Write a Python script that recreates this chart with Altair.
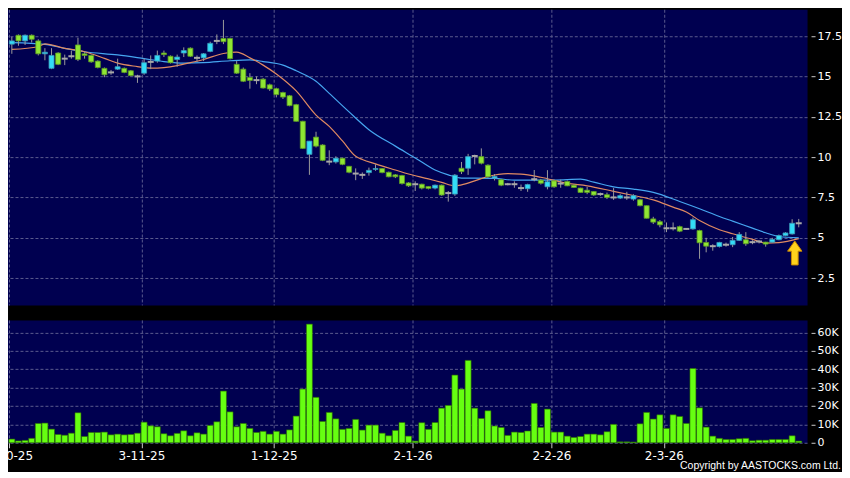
import altair as alt
import pandas as pd

# ---------------- data ----------------
month_idx = [0, 20, 40, 61, 82, 99]
month_labels = ["2-10-25", "3-11-25", "1-12-25", "2-1-26", "2-2-26", "2-3-26"]

open_ = [17.0, 17.55, 17.2, 17.55, 17.2, 16.4, 15.5, 16.45, 16.1, 16.25,
         16.95, 16.4, 16.3, 15.95, 15.5, 15.25, 15.45, 15.5, 15.35, 15.0,
         15.2, 15.9, 15.95, 16.45, 16.25, 16.05, 16.45, 16.75, 16.15, 16.15,
         16.55, 17.2, 17.35, 17.35, 15.75, 15.45, 14.93, 14.77, 14.83, 14.48,
         14.24, 14.0, 13.8, 13.25, 12.22, 10.17, 11.24, 10.75, 9.72, 9.7,
         9.93, 9.43, 8.98, 8.9, 9.04, 9.24, 9.29, 9.06, 8.9, 8.86,
         8.4, 8.32, 8.32, 8.18, 8.08, 8.26, 7.77, 7.71, 9.31, 9.31,
         10.07, 10.03, 9.5, 8.7, 8.6, 8.32, 8.32, 8.08, 8.04, 8.63,
         8.57, 8.16, 8.53, 8.36, 8.49, 8.26, 8.08, 7.95, 7.87, 7.71,
         7.67, 7.5, 7.46, 7.5, 7.4, 7.36, 6.99, 6.17, 6.0, 5.59,
         5.59, 5.69, 5.55, 5.55, 5.45, 4.71, 4.48, 4.46, 4.57, 4.57,
         4.84, 4.88, 4.73, 4.77, 4.73, 4.73, 4.88, 5.14, 5.24, 5.9]

high = [17.45, 17.6, 17.6, 17.6, 17.3, 16.75, 16.75, 16.5, 16.35, 16.6,
        17.4, 16.5, 16.35, 16.0, 15.55, 15.4, 16.1, 15.55, 15.4, 15.1,
        16.1, 16.3, 16.6, 16.6, 16.3, 16.35, 16.8, 16.8, 16.3, 16.45,
        17.15, 17.6, 18.5, 17.4, 15.95, 15.55, 15.2, 15.0, 14.9, 14.55,
        14.3, 14.05, 13.85, 13.3, 12.25, 11.0, 11.57, 10.8, 10.42, 10.05,
        9.95, 9.45, 9.3, 9.05, 9.35, 9.55, 9.32, 9.1, 8.95, 8.9,
        8.45, 8.5, 8.35, 8.2, 8.3, 8.3, 7.9, 8.95, 9.7, 10.2,
        10.15, 10.54, 9.55, 8.95, 8.65, 8.4, 8.5, 8.3, 8.35, 9.2,
        8.65, 9.19, 8.6, 8.6, 8.55, 8.3, 8.1, 8.15, 7.9, 7.8,
        7.8, 8.08, 7.7, 7.85, 7.7, 7.4, 7.0, 6.3, 6.1, 5.95,
        5.95, 5.75, 5.6, 6.25, 5.5, 5.0, 4.6, 4.75, 4.7, 5.05,
        5.35, 5.35, 4.85, 4.85, 4.75, 5.0, 5.2, 5.35, 6.15, 6.17]

low = [16.4, 16.9, 16.95, 17.1, 16.3, 16.0, 15.45, 15.7, 15.7, 16.1,
       15.95, 16.1, 15.85, 15.5, 14.95, 15.1, 15.4, 15.2, 15.0, 14.6,
       15.1, 15.45, 15.85, 16.2, 15.8, 15.6, 16.2, 16.2, 15.9, 15.95,
       16.5, 17.0, 17.0, 16.05, 15.15, 14.65, 14.24, 14.52, 14.25, 14.1,
       13.7, 13.6, 13.15, 12.2, 10.5, 8.9, 10.6, 9.75, 9.5, 9.6,
       9.5, 9.0, 8.57, 8.65, 8.85, 9.15, 9.0, 8.75, 8.7, 8.3,
       8.15, 7.9, 8.0, 8.0, 8.0, 7.6, 7.24, 7.6, 8.95, 8.9,
       9.55, 9.55, 8.7, 8.55, 8.2, 8.25, 8.1, 7.9, 7.85, 8.5,
       8.3, 8.0, 8.1, 8.1, 8.2, 8.1, 7.8, 7.7, 7.6, 7.6,
       7.4, 7.35, 7.4, 7.35, 7.3, 6.95, 6.2, 5.85, 5.65, 5.35,
       5.45, 5.35, 5.5, 5.5, 3.7, 4.1, 4.2, 4.4, 4.45, 4.42,
       4.8, 4.5, 4.6, 4.65, 4.45, 4.7, 4.85, 5.1, 5.2, 5.65]

close = [17.2, 17.2, 17.55, 17.3, 16.4, 16.5, 16.3, 15.75, 16.1, 16.25,
         16.05, 16.3, 15.9, 15.55, 15.1, 15.25, 15.6, 15.25, 15.05, 15.0,
         15.85, 15.9, 16.3, 16.35, 15.85, 16.2, 16.6, 16.25, 16.15, 16.4,
         17.05, 17.2, 17.15, 16.1, 15.2, 14.7, 14.75, 14.77, 14.28, 14.22,
         13.87, 13.72, 13.19, 12.22, 10.54, 10.99, 10.68, 9.8, 9.72, 9.93,
         9.55, 9.06, 8.98, 8.9, 9.18, 9.29, 9.04, 8.78, 8.78, 8.36,
         8.22, 8.32, 8.08, 8.06, 8.26, 7.65, 7.77, 8.88, 9.1, 10.03,
         10.07, 9.62, 8.78, 8.8, 8.26, 8.32, 8.32, 8.08, 8.3, 8.63,
         8.38, 8.47, 8.16, 8.36, 8.22, 8.12, 7.81, 7.81, 7.65, 7.71,
         7.5, 7.5, 7.61, 7.5, 7.61, 6.99, 6.21, 5.97, 5.8, 5.59,
         5.59, 5.41, 5.55, 6.12, 4.69, 4.48, 4.48, 4.71, 4.57, 4.84,
         5.21, 4.63, 4.73, 4.77, 4.61, 4.9, 5.14, 5.3, 5.9, 5.9]

volume_k = [2.0, 1.0, 1.3, 2.4, 10.5, 10.7, 7.4, 4.5, 4.1, 5.2,
            16.3, 3.4, 5.6, 5.6, 5.8, 4.3, 4.7, 4.3, 4.5, 5.2,
            11.2, 9.2, 8.7, 4.9, 3.8, 5.1, 6.5, 3.8, 5.4, 4.7,
            9.4, 11.4, 28.1, 16.8, 8.7, 10.5, 7.8, 5.6, 6.2, 4.7,
            6.2, 4.7, 7.0, 14.5, 29.2, 64.5, 24.7, 11.6, 16.5, 13.0,
            7.3, 7.8, 12.7, 6.9, 9.6, 9.6, 5.2, 3.8, 6.7, 11.0,
            3.6, 0.9, 10.9, 7.3, 11.0, 18.8, 20.3, 36.8, 29.2, 44.8,
            18.8, 13.2, 17.4, 9.1, 8.3, 4.0, 5.8, 5.6, 6.4, 21.4,
            8.3, 18.3, 5.8, 5.8, 3.6, 2.9, 3.4, 4.7, 4.7, 4.3,
            6.0, 10.0, 0.5, 0.5, 0.4, 10.3, 16.5, 12.9, 15.2, 7.8,
            15.2, 14.3, 10.5, 40.4, 19.0, 8.5, 3.6, 2.4, 1.8, 1.8,
            2.2, 2.4, 1.1, 1.4, 1.4, 1.8, 1.8, 1.8, 3.8, 0.9]

ma10_idx = [0, 4, 5, 8, 11, 14, 16, 19, 21, 23, 25, 27, 29, 32, 34, 36, 38, 40,
            43, 46, 48, 50, 52, 53, 55, 58, 60, 63, 65, 67, 68, 70, 72, 75, 77,
            80, 84, 87, 91, 94, 97, 100, 102, 104, 107, 109, 112, 114, 116, 119]
ma10_val = [16.67, 16.84, 17.02, 16.74, 16.53, 16.12, 15.82, 15.61, 15.51, 15.55,
            15.67, 15.85, 16.05, 16.42, 16.5, 16.15, 15.7, 15.15,
            14.1, 12.6, 11.9, 11.0, 10.05, 9.85, 9.58, 9.2, 8.95, 8.65, 8.43, 8.22,
            8.28, 8.53, 8.8, 8.98, 8.95,
            8.75, 8.37, 8.22, 7.88, 7.62, 7.35, 6.9, 6.6, 6.07, 5.5, 5.25, 4.9, 4.67, 4.7, 4.95]

ma20_idx = [0, 5, 8, 11, 16, 20, 23, 26, 29, 33, 36, 38, 41, 43, 46, 48, 51, 54,
            58, 61, 64, 66, 68, 70, 73, 76, 82, 86, 88, 91, 94, 97, 101, 104,
            107, 109, 112, 114, 116, 119]
ma20_val = [17.09, 16.98, 16.74, 16.53, 16.33, 16.1, 15.92, 15.82, 15.85, 15.97,
            16.02, 15.92, 15.7, 15.35, 14.7, 13.95, 12.8, 11.7,
            10.68, 9.95, 9.2, 8.9, 8.7, 8.7, 8.68, 8.57, 8.57, 8.63, 8.45, 8.16,
            8.02, 7.81, 7.25, 6.8, 6.32, 6.03, 5.6, 5.31, 5.08, 5.0]

arrow_idx = [118.4]
arrow_price = [4.06]

price_ticks = [2.5, 5, 7.5, 10, 12.5, 15, 17.5]
vol_ticks = [0, 10000, 20000, 30000, 40000, 50000, 60000]
copyright_text = "Copyright by AASTOCKS.com Ltd."

# ---------------- frames ----------------
n = len(open_)
df = pd.DataFrame({"i": list(range(n)), "open": open_, "high": high,
                   "low": low, "close": close,
                   "vol": [v * 1000 for v in volume_k]})
df["dir"] = ["up" if c > o else ("down" if c < o else "flat")
             for o, c in zip(open_, close)]
ma10 = pd.DataFrame({"i": ma10_idx, "v": ma10_val})
ma20 = pd.DataFrame({"i": ma20_idx, "v": ma20_val})
arrow = pd.DataFrame({"i": arrow_idx, "p": arrow_price})

# ---------------- layout ----------------
W = 804
H1 = 296
H2 = 123
FONT = "DejaVu Sans"

grid_vals = [m - 0.4 for m in month_idx]
label_expr = ""
for m, lab in zip(month_idx, month_labels):
    label_expr += f"round(datum.value + 0.4) == {m} ? '{lab}' : "
label_expr += "''"

xscale = alt.Scale(domain=[-0.43, 119.5], nice=False, zero=False)
x_price = alt.X("i:Q", scale=xscale, title=None,
                axis=alt.Axis(values=grid_vals, labels=False, ticks=False,
                              domain=False, grid=True))
x_vol = alt.X("i:Q", scale=xscale, title=None,
              axis=alt.Axis(values=grid_vals, labelExpr=label_expr, grid=True,
                            ticks=True, tickSize=5, domain=False,
                            labelFontSize=12, labelPadding=3,
                            labelOverlap=False))

yscale = alt.Scale(domain=[0.84, 19.16], nice=False, zero=False)
y_axis = alt.Axis(values=price_ticks, labelExpr="datum.value + ''",
                  orient="right", offset=4, tickSize=4, labelPadding=2,
                  domain=False, grid=True, labelFontSize=11)

base = alt.Chart(df)

wicks = base.mark_rule(color="#9b9b9b", strokeWidth=1).encode(
    x=x_price,
    y=alt.Y("low:Q", scale=yscale, axis=y_axis, title=None),
    y2="high:Q",
)

line10 = alt.Chart(ma10).mark_line(color="#e08a62", strokeWidth=1.2,
                                   interpolate="monotone").encode(
    x=x_price, y=alt.Y("v:Q", scale=yscale, axis=y_axis, title=None))
line20 = alt.Chart(ma20).mark_line(color="#46a6f0", strokeWidth=1.2,
                                   interpolate="monotone").encode(
    x=x_price, y=alt.Y("v:Q", scale=yscale, axis=y_axis, title=None))

bodies = base.transform_filter("datum.dir != 'flat'").mark_bar(
    size=5, strokeWidth=0.8).encode(
    x=x_price,
    y=alt.Y("open:Q", scale=yscale, axis=y_axis, title=None),
    y2="close:Q",
    fill=alt.Fill("dir:N", scale=alt.Scale(domain=["up", "down"],
                                          range=["#33dcf7", "#8fe633"]),
                  legend=None),
    stroke=alt.Stroke("dir:N", scale=alt.Scale(domain=["up", "down"],
                                              range=["#3c98b8", "#5a9a22"]),
                      legend=None),
)

dojis = base.transform_filter("datum.dir == 'flat'").mark_tick(
    orient="horizontal", size=6, thickness=2, color="#a8a8a8", opacity=1).encode(
    x=x_price,
    y=alt.Y("close:Q", scale=yscale, axis=y_axis, title=None),
)

arrow_path = "M0,-1L0.6,-0.15L0.28,-0.15L0.28,1L-0.28,1L-0.28,-0.15L-0.6,-0.15Z"
arrow_mark = alt.Chart(arrow).mark_point(
    shape=arrow_path, size=576, filled=True, fill="#ffd21c",
    stroke="#c98a00", strokeWidth=1, opacity=1).encode(
    x=x_price, y=alt.Y("p:Q", scale=yscale, axis=y_axis, title=None))

price = alt.layer(line20, line10, wicks, bodies, dojis, arrow_mark).properties(
    width=W, height=H1)

vol_axis = alt.Axis(values=vol_ticks, orient="right", offset=4, tickSize=4,
                    labelPadding=2, domain=False, grid=True, labelFontSize=11,
                    labelExpr="datum.value == 0 ? '0' : (datum.value / 1000) + 'K'")
vbars = base.mark_bar(size=6, fill="#66ff11", stroke="#2c6a00",
                      strokeWidth=0.6).encode(
    x=x_vol,
    y=alt.Y("vol:Q", scale=alt.Scale(domain=[0, 66800], nice=False),
            axis=vol_axis, title=None),
)
copy = alt.Chart(pd.DataFrame({"t": [copyright_text]})).mark_text(
    align="right", baseline="bottom", color="white", fontSize=10.5,
    font="Liberation Sans").encode(
    x=alt.value(W + 34), y=alt.value(H2 + 28), text="t:N")

volume = alt.layer(vbars, copy).properties(width=W, height=H2)

chart = alt.vconcat(price, volume, spacing=13).properties(
    background="#000000",
    padding={"left": -23, "top": 0, "right": 0, "bottom": 0},
).configure_view(
    fill="#000050", stroke="transparent"
).configure_axis(
    gridColor="#5a5a8e", gridDash=[3, 2], gridWidth=1,
    labelColor="#ffffff", labelFont=FONT, tickColor="#c8c8c8",
)

chart.save("out.html", embed_options={"renderer": "svg", "actions": False})
